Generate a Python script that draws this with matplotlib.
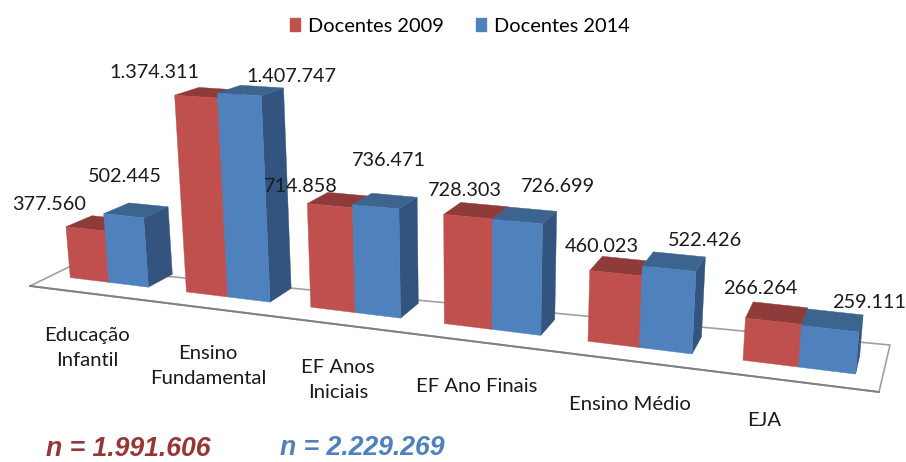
import numpy as np
import matplotlib
matplotlib.use("Agg")
import matplotlib.pyplot as plt
from matplotlib.patches import Patch

# data
categories = ["Educação\nInfantil", "Ensino\nFundamental", "EF Anos\nIniciais",
              "EF Ano Finais", "Ensino Médio", "EJA"]
docentes_2009 = [377560, 1374311, 714858, 728303, 460023, 266264]
docentes_2014 = [502445, 1407747, 736471, 726699, 522426, 259111]
total_2009 = "n = 1.991.606"
total_2014 = "n = 2.229.269"

# colours
RED_FRONT, RED_TOP, RED_SIDE = "#C0504D", "#8E3B39", "#7A3230"
BLUE_FRONT, BLUE_TOP, BLUE_SIDE = "#4F81BD", "#3C648F", "#32547E"
GAP = 0.16  # share of a category left empty each side of the pair

# where the labels sit, in image pixels
labels_2009_xy = [(49, 205), (154, 73), (301, 187), (465, 191), (602, 247), (760, 289)]
labels_2014_xy = [(125, 177), (291, 77), (389, 161), (558, 186), (705, 240), (869, 303)]
category_xy = [(87, 348), (208, 366), (338, 380), (477, 387), (630, 405), (764, 421)]
floor_px = [(30, 286), (69, 267), (890, 345), (879, 392)]

# camera anchors: cat, share across pair, depth, value, pixel x, pixel y
anchors = []
bottoms = [[(70, 278), (108, 283), (148, 287), (173, 275)],
           [(186, 292), (228, 297), (270, 302), (292, 289)],
           [(311, 308), (355, 312), (400, 318), (419, 295)],
           [(445, 324), (492, 329), (541, 336), (556, 320)],
           [(588, 342), (639, 348), (692, 354), (703, 338)],
           [(743, 361), (798, 367), (856, 373), None]]
tops = [[(66, 227), (104, 214), (144, 217), (168, 207)],
        [(175, 94), (218, 93), (262, 95), (285, 88)],
        [(307, 204), (353, 205), (399, 207), (418, 197)],
        [(444, 215), (492, 219), (543, 223), (557, 212)],
        [(590, 271), (642, 267), (696, 272), (706, 257)],
        [(746, 318), (801, 325), (858, 332), (863, 315)]]
red_back = [(93, 217), (198, 88), (321, 193), (462, 203), (600, 257), (753, 303)]
for i in range(6):
    across = [(0, 0), (0.5, 0), (1, 0), (1, 1)]
    heights = [docentes_2009[i], docentes_2014[i], docentes_2014[i], docentes_2014[i]]
    for j, (u, d) in enumerate(across):
        if bottoms[i][j] is not None:
            anchors.append((i, u, d, 0, *bottoms[i][j]))
        anchors.append((i, u, d, heights[j], *tops[i][j]))
    anchors.append((i, 0, 1, docentes_2009[i], *red_back[i]))


def world(cat, u, d, value):
    return cat + GAP + u * (1 - 2 * GAP), d, value / 1e6


def fit_camera():
    rows = []
    for cat, u, d, value, px, py in anchors:
        p = [*world(cat, u, d, value), 1]
        px, py = px / 1000, py / 1000
        rows.append(p + [0, 0, 0, 0] + [-px * c for c in p])
        rows.append([0, 0, 0, 0] + p + [-py * c for c in p])
    return np.linalg.svd(np.array(rows))[2][-1].reshape(3, 4)


camera = fit_camera()


def project(cat, u, d, value):
    h = camera @ np.array([*world(cat, u, d, value), 1])
    return h[0] / h[2] * 1000, h[1] / h[2] * 1000


def draw_bar(ax, cat, u0, u1, value, colors):
    front, top, side = colors
    c = [project(cat, u, d, z) for u, d, z in
         [(u0, 0, 0), (u1, 0, 0), (u1, 0, value), (u0, 0, value),
          (u0, 1, value), (u1, 1, value), (u1, 1, 0)]]
    ax.fill(*zip(c[1], c[6], c[5], c[2]), color=side, lw=0.3, zorder=2 + cat)
    ax.fill(*zip(c[3], c[2], c[5], c[4]), color=top, lw=0.3, zorder=2 + cat)
    ax.fill(*zip(c[0], c[1], c[2], c[3]), color=front, lw=0.3, zorder=2 + cat)


fig = plt.figure(figsize=(9.06, 4.62), dpi=100)
ax = fig.add_axes([0, 0, 1, 1])
ax.set_xlim(0, 906)
ax.set_ylim(462, 0)
ax.axis("off")

ax.fill(*zip(*floor_px), facecolor="white", edgecolor="#A0A0A0", lw=1.2, zorder=1)
# the front edge of the floor is heavier
ax.plot(*zip(floor_px[0], floor_px[3]), color="#808080", lw=1.4, zorder=1)

for i in range(len(categories)):
    draw_bar(ax, i, 0, 0.5, docentes_2009[i], (RED_FRONT, RED_TOP, RED_SIDE))
    draw_bar(ax, i, 0.5, 1, docentes_2014[i], (BLUE_FRONT, BLUE_TOP, BLUE_SIDE))


def pt(value):
    return f"{value:,}".replace(",", ".")


for series, where in [(docentes_2009, labels_2009_xy), (docentes_2014, labels_2014_xy)]:
    for value, (x, y) in zip(series, where):
        ax.text(x, y, pt(value), ha="center", va="center", family="Lato",
                fontsize=14.3, color="#1A1A1A", zorder=20)

for name, (x, y) in zip(categories, category_xy):
    ax.text(x, y, name, ha="center", va="center", family="Lato", fontsize=14.6,
            color="#1A1A1A", linespacing=1.6, zorder=20)

ax.text(46, 456, total_2009, ha="left", va="baseline", family="Liberation Sans",
        weight="bold", style="italic", fontsize=19.2, color="#953735")
ax.text(280, 455, total_2014, ha="left", va="baseline", family="Liberation Sans",
        weight="bold", style="italic", fontsize=19.2, color="#4F81BD")

handles = [Patch(color=RED_FRONT, label="Docentes 2009"), Patch(color=BLUE_FRONT, label="Docentes 2014")]
ax.legend(handles=handles, ncol=2, loc="center", bbox_to_anchor=(460 / 906, 1 - 26 / 462),
          frameon=False, prop={"family": "Lato", "size": 14.4}, handlelength=0.5,
          handleheight=0.6, handletextpad=0.4, columnspacing=1.6)

fig.savefig("out.png", dpi=100)
